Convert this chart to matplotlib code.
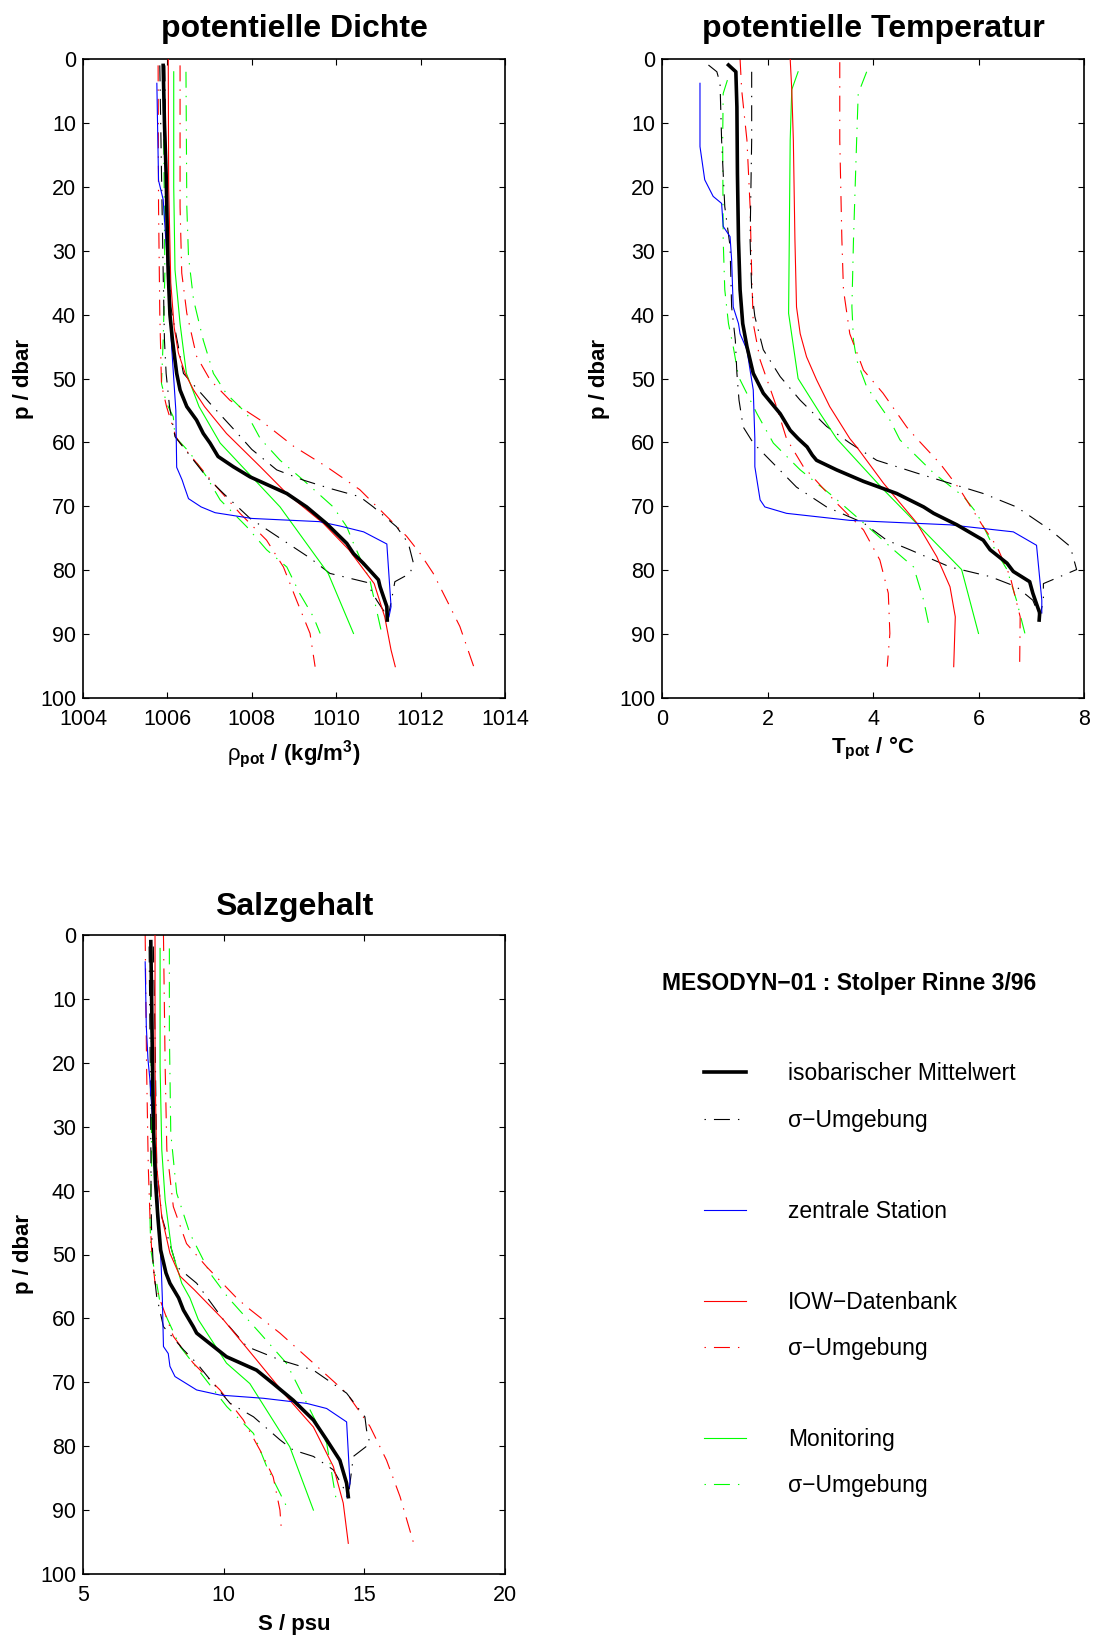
import matplotlib
matplotlib.use("Agg")
import matplotlib.pyplot as plt

plt.rcParams['font.family'] = ['Liberation Sans', 'DejaVu Sans']
plt.rcParams['mathtext.fontset'] = 'custom'
plt.rcParams['mathtext.rm'] = 'Liberation Sans'
plt.rcParams['mathtext.bf'] = 'Liberation Sans:bold'
plt.rcParams['mathtext.it'] = 'Liberation Sans:italic'
plt.rcParams['lines.scale_dashes'] = False

# ---------------- potentielle Dichte (kg/m3) ----------------
rho_mean_p = [1, 10, 18, 28, 33.5, 40, 44, 49.2, 51.8, 54.4, 56.5, 58.6, 60.1, 62.2, 63.8, 65.4, 68, 70.1, 72.7, 75.8, 77.4, 78.9, 81.5, 82.6, 85.7, 87.8]
rho_mean = [1005.90, 1005.93, 1005.97, 1006.00, 1006.02, 1006.06, 1006.12, 1006.22, 1006.30, 1006.46, 1006.69, 1006.85, 1007.01, 1007.20, 1007.56, 1007.96, 1008.83, 1009.30, 1009.77, 1010.25, 1010.41, 1010.64, 1011.00, 1011.04, 1011.20, 1011.21]
rho_mean_lo_p = [1, 17.9, 33.5, 44, 49.2, 54.4, 59.1, 60.1, 65.4, 68, 71.9, 75, 78.1, 80.5, 81.9, 84.7, 86.7, 87.6]
rho_mean_lo = [1005.82, 1005.86, 1005.90, 1005.93, 1005.97, 1006.05, 1006.18, 1006.30, 1006.93, 1007.33, 1007.96, 1008.67, 1009.38, 1009.85, 1010.72, 1010.96, 1011.16, 1011.23]
rho_mean_hi_p = [1, 23.1, 38.8, 49.2, 53.9, 58, 61.1, 64.3, 65.9, 67.2, 68.5, 70.1, 73.2, 75.8, 78.9, 80.5, 81.8, 84.7, 87.3]
rho_mean_hi = [1005.94, 1005.97, 1006.08, 1006.38, 1007.01, 1007.58, 1008.00, 1008.59, 1009.22, 1009.85, 1010.56, 1010.88, 1011.43, 1011.71, 1011.83, 1011.75, 1011.39, 1011.31, 1011.23]
rho_stat_p = [3.8, 19, 22, 30, 45, 55, 63.9, 65.9, 66.9, 68.8, 70.1, 71.0, 71.9, 72.4, 73.1, 74.0, 75.9, 85.7, 87.3]
rho_stat = [1005.75, 1005.79, 1005.90, 1005.98, 1006.10, 1006.20, 1006.22, 1006.35, 1006.40, 1006.50, 1006.80, 1007.13, 1008.00, 1009.60, 1010.10, 1010.65, 1011.20, 1011.30, 1011.25]
rho_iow_p = [0, 20, 35, 42, 46, 49.2, 51.8, 54.4, 58.6, 63.8, 68, 72.7, 76.8, 82.1, 87.3, 92.5, 95.1]
rho_iow = [1006.02, 1006.03, 1006.08, 1006.16, 1006.26, 1006.42, 1006.62, 1006.88, 1007.40, 1008.20, 1008.83, 1009.70, 1010.30, 1010.90, 1011.15, 1011.30, 1011.40]
rho_iow_lo_p = [1, 23, 40, 51, 54.4, 59.1, 60.1, 67, 71.1, 75.3, 79.5, 84.7, 89.9, 95.1]
rho_iow_lo = [1005.78, 1005.79, 1005.82, 1005.86, 1005.98, 1006.20, 1006.30, 1007.17, 1007.72, 1008.35, 1008.75, 1009.06, 1009.38, 1009.50]
rho_iow_hi_p = [1, 23.1, 33.5, 39.8, 46.5, 50.2, 53.4, 56.5, 60.6, 63.8, 67.4, 71.6, 74.7, 77.4, 80.5, 84.7, 88.8, 95.1]
rho_iow_hi = [1006.30, 1006.30, 1006.34, 1006.46, 1006.69, 1007.01, 1007.48, 1008.20, 1008.99, 1009.77, 1010.56, 1011.20, 1011.67, 1011.99, 1012.30, 1012.62, 1012.93, 1013.26]
rho_mon_p = [2, 20, 33, 41.4, 49.2, 54.4, 60.1, 70.1, 80.5, 89.9]
rho_mon = [1006.15, 1006.15, 1006.18, 1006.30, 1006.45, 1006.75, 1007.25, 1008.67, 1009.81, 1010.41]
rho_mon_lo_p = [2, 33.5, 44, 50.8, 53.9, 56, 59.1, 61.6, 65.4, 69.0, 73.2, 76.8, 79.5, 83.7, 87.3, 89.9]
rho_mon_lo = [1005.90, 1005.94, 1005.90, 1005.86, 1005.98, 1006.14, 1006.18, 1006.53, 1006.93, 1007.25, 1007.88, 1008.35, 1008.83, 1009.14, 1009.46, 1009.62]
rho_mon_hi_p = [2, 23.1, 30.9, 37.7, 44, 49.2, 52.4, 55.5, 59.4, 62.8, 65.9, 70.1, 73.2, 75.8, 81.6, 89.9]
rho_mon_hi = [1006.44, 1006.46, 1006.50, 1006.62, 1006.85, 1007.09, 1007.40, 1007.88, 1008.20, 1008.67, 1009.22, 1009.93, 1010.25, 1010.41, 1010.80, 1011.08]

# ---------------- potentielle Temperatur (degC) ----------------
tp_mean_p = [0.94, 2, 7.5, 17.9, 28.3, 36.1, 41.4, 45, 49.2, 52.3, 55.5, 58.1, 59.4, 60.7, 62.0, 62.8, 64.3, 66.1, 68.0, 70.1, 71.1, 72.9, 75.3, 76.8, 78.9, 80.2, 81.8, 83.6, 86.7, 87.8]
tp_mean = [1.26, 1.40, 1.42, 1.43, 1.45, 1.48, 1.53, 1.61, 1.73, 1.92, 2.24, 2.43, 2.58, 2.75, 2.85, 2.93, 3.31, 3.82, 4.45, 4.96, 5.15, 5.59, 6.09, 6.22, 6.54, 6.66, 6.97, 7.03, 7.16, 7.15]
tp_mean_lo_p = [0.94, 2, 3.8, 12.7, 23.1, 29.3, 38.8, 44, 49.2, 53.4, 57.6, 60.1, 63.8, 67, 70.1, 72.6, 75.3, 76.8, 79.5, 81, 82.6, 84.7, 87.3]
tp_mean_lo = [0.88, 1.04, 1.10, 1.13, 1.19, 1.29, 1.32, 1.39, 1.42, 1.46, 1.54, 1.73, 2.17, 2.55, 3.12, 3.82, 4.26, 4.70, 5.46, 6.22, 6.72, 7.03, 7.16]
tp_mean_hi_p = [2, 12.7, 28.3, 36.1, 40.3, 45.5, 49.7, 53.4, 57.5, 60.1, 62.8, 64.8, 66.4, 68, 70.1, 73.7, 76.3, 79.9, 82.1, 84.7, 87.3]
tp_mean_hi = [1.70, 1.70, 1.67, 1.70, 1.76, 1.92, 2.24, 2.62, 3.12, 3.56, 4.07, 4.83, 5.46, 6.09, 6.72, 7.36, 7.74, 7.86, 7.23, 7.23, 7.16]
tp_stat_p = [3.8, 13.7, 18.9, 21.5, 22.6, 26.2, 27.8, 31.4, 38.8, 41.4, 43, 45.5, 48.7, 51.8, 59.4, 63.8, 65.9, 69, 70.1, 71.1, 72.2, 72.9, 74.0, 76.1, 84.7, 86.7]
tp_stat = [0.72, 0.72, 0.81, 0.97, 1.13, 1.16, 1.29, 1.32, 1.35, 1.45, 1.48, 1.61, 1.67, 1.73, 1.76, 1.76, 1.80, 1.86, 1.95, 2.36, 3.56, 5.46, 6.66, 7.10, 7.20, 7.20]
tp_iow_p = [0, 4.8, 12.7, 28.3, 38.8, 43, 46.6, 50.2, 54.4, 59.4, 60.7, 66.4, 72.6, 77.9, 82.6, 87.3, 95.1]
tp_iow = [2.43, 2.46, 2.49, 2.52, 2.55, 2.62, 2.74, 2.93, 3.18, 3.56, 3.69, 4.20, 4.83, 5.21, 5.46, 5.56, 5.53]
tp_iow_lo_p = [0, 4.8, 12.7, 23.1, 33.5, 41.4, 47.1, 54.4, 59.4, 63.8, 69.5, 73.7, 78.4, 83.6, 89.9, 95.1]
tp_iow_lo = [1.48, 1.51, 1.61, 1.67, 1.70, 1.73, 1.86, 2.17, 2.36, 2.68, 3.31, 3.82, 4.13, 4.29, 4.32, 4.27]
tp_iow_hi_p = [0.5, 12.7, 28.3, 36.1, 43, 48.7, 52.3, 57.6, 59.4, 63.3, 67.4, 73.2, 76.3, 81, 87.3, 95.1]
tp_iow_hi = [3.37, 3.37, 3.41, 3.44, 3.56, 3.82, 4.19, 4.64, 4.83, 5.27, 5.65, 6.09, 6.35, 6.60, 6.79, 6.78]
tp_mon_p = [2, 4.8, 12.7, 39.8, 50, 55.5, 59.4, 67.4, 79.9, 89.9]
tp_mon = [2.58, 2.46, 2.43, 2.40, 2.58, 3.00, 3.31, 4.20, 5.68, 6.00]
tp_mon_lo_p = [3.3, 5.4, 12.7, 28.3, 36.1, 41.4, 45, 49.7, 55.5, 60.1, 64.3, 68.5, 72.6, 76.8, 79.5, 84.7, 89.4]
tp_mon_lo = [1.24, 1.16, 1.15, 1.16, 1.19, 1.26, 1.35, 1.45, 1.80, 2.11, 2.62, 3.25, 3.82, 4.39, 4.77, 4.96, 5.08]
tp_mon_hi_p = [2, 5.4, 12.7, 28.3, 38.8, 44, 47.1, 51.3, 56.5, 59.6, 64.8, 68.5, 71.1, 76.3, 79.9, 84.7, 89.9]
tp_mon_hi = [3.88, 3.72, 3.69, 3.63, 3.60, 3.63, 3.69, 3.88, 4.32, 4.51, 5.15, 5.72, 5.97, 6.28, 6.54, 6.72, 6.88]

# ---------------- Salzgehalt (psu) ----------------
s_mean_p = [1.04, 10.2, 20.6, 31.0, 38.8, 44.1, 49.3, 52.9, 54.5, 56.8, 58.7, 61.3, 62.3, 66, 68.1, 70.2, 72.8, 75.9, 79.0, 82.2, 85.8, 87.9]
s_mean = [7.41, 7.44, 7.47, 7.51, 7.58, 7.66, 7.76, 7.95, 8.09, 8.40, 8.57, 8.92, 9.04, 10.10, 11.17, 11.76, 12.47, 13.19, 13.66, 14.13, 14.37, 14.43]
s_mean_lo_p = [1.8, 15.3, 31, 41.5, 46.7, 51.9, 56.6, 61.3, 64.9, 67, 70.2, 73.3, 75.4, 79, 80.6, 81.6, 83.7, 87.4]
s_mean_lo = [7.35, 7.38, 7.41, 7.42, 7.44, 7.50, 7.62, 7.86, 8.57, 9.04, 9.63, 10.23, 11.06, 12.0, 12.47, 13.19, 13.90, 14.37]
s_mean_hi_p = [1.8, 15.3, 36.2, 44.1, 51.9, 54.5, 60.2, 64.4, 66.5, 68.1, 71.7, 75.4, 77.5, 79.6, 81.6, 85.8, 87.9]
s_mean_hi = [7.50, 7.56, 7.62, 7.80, 8.33, 9.04, 9.99, 10.82, 12.0, 13.19, 14.37, 15.02, 15.08, 15.20, 14.61, 14.49, 14.43]
s_stat_p = [4.2, 14.3, 19.5, 22.7, 31, 41.5, 51.9, 56.8, 64.4, 65.5, 67.5, 69.1, 71.2, 72.0, 72.5, 73.3, 74.1, 76.2, 85.8, 87.9]
s_stat = [7.21, 7.25, 7.31, 7.38, 7.50, 7.66, 7.78, 7.82, 7.86, 8.03, 8.09, 8.27, 9.04, 9.87, 11.41, 12.95, 13.66, 14.37, 14.49, 14.37]
s_iow_p = [0, 20.6, 36.2, 44.1, 49.8, 53.4, 55.5, 60.2, 66.5, 72.2, 77, 83.2, 88.9, 95.2]
s_iow = [7.56, 7.56, 7.62, 7.80, 8.09, 8.45, 8.95, 9.99, 11.17, 12.23, 13.19, 13.90, 14.25, 14.43]
s_iow_lo_p = [0, 20.6, 36.2, 44.1, 49.3, 54.5, 57.1, 62.8, 67, 71.2, 75.9, 80.6, 84.8, 90, 93.6]
s_iow_lo = [7.21, 7.26, 7.32, 7.38, 7.44, 7.56, 7.74, 8.21, 8.92, 9.87, 10.70, 11.29, 11.76, 12.0, 12.06]
s_iow_hi_p = [0, 20.6, 33.6, 42.5, 48.3, 51.9, 56.8, 58.2, 62.3, 67, 71.7, 76.9, 82.2, 87.9, 95]
s_iow_hi = [7.86, 7.92, 7.98, 8.21, 8.68, 9.39, 10.46, 10.82, 12.0, 13.19, 14.37, 15.20, 15.79, 16.27, 16.74]
s_mon_p = [2.1, 20.6, 33.6, 41.5, 49.3, 54.5, 56.8, 60.2, 67, 70.2, 80.1, 90]
s_mon = [7.74, 7.74, 7.80, 7.92, 8.15, 8.51, 8.80, 9.10, 10.10, 10.93, 12.35, 13.19]
s_mon_lo_p = [2.3, 20.6, 36.2, 44.1, 49.3, 54.5, 57.6, 64.4, 69.1, 73.8, 78, 83.2, 88.4, 90]
s_mon_lo = [7.44, 7.42, 7.44, 7.38, 7.41, 7.62, 7.74, 8.45, 9.28, 10.11, 11.06, 11.53, 12.12, 12.30]
s_mon_hi_p = [2.1, 15.3, 31, 40.4, 46.7, 52.9, 56.7, 62.3, 67, 72.2, 79.5, 88.9]
s_mon_hi = [8.07, 8.07, 8.12, 8.33, 8.80, 9.51, 10.15, 11.29, 12.23, 12.83, 13.66, 14.02]

# ---------------- texts ----------------
titles = ['potentielle Dichte', 'potentielle Temperatur', 'Salzgehalt']
xlabels = [r'$\mathrm{\rho}_{\mathbf{pot}}$ / (kg/$\mathbf{m}^{\mathbf{3}}$)',
           r'$\mathbf{T}_{\mathbf{pot}}$ / °C', 'S / psu']
ylabel = 'p / dbar'
xticks_rho = [1004, 1006, 1008, 1010, 1012, 1014]
xticks_t = [0, 2, 4, 6, 8]
xticks_s = [5, 10, 15, 20]
yticks = list(range(0, 101, 10))
legend_title = 'MESODYN\u221201 : Stolper Rinne 3/96'
legend_labels = ['isobarischer Mittelwert', '\u03c3\u2212Umgebung', 'zentrale Station',
                 'IOW\u2212Datenbank', '\u03c3\u2212Umgebung', 'Monitoring', '\u03c3\u2212Umgebung']

W, H = 1093, 1637
fig = plt.figure(figsize=(W / 100, H / 100), dpi=100)
fig.patch.set_facecolor('white')

AX_W, AX_H = 422, 639
DD = (0, (11.5, 5.8, 1.0, 5.8))
THIN = 0.8
THICK = 2.6


def make_ax(left_px, top_px):
    return fig.add_axes([left_px / W, 1 - (top_px + AX_H) / H, AX_W / W, AX_H / H])


def style(ax, xlim, xticks, title, title_y, xlabel, xlabel_y, ylabel_x):
    ax.set_xlim(*xlim)
    ax.set_ylim(100, 0)
    ax.set_xticks(xticks)
    ax.set_yticks(yticks)
    ax.tick_params(direction='in', top=True, right=True, length=4.3, width=0.8,
                   labelsize=15.5, colors='black')
    ax.tick_params(axis='x', pad=8)
    ax.tick_params(axis='y', pad=5)
    for sp in ax.spines.values():
        sp.set_linewidth(1.2)
    ax.text(0.5, title_y, title, transform=ax.transAxes, ha='center', va='baseline',
            fontsize=23, fontweight='bold')
    ax.text(0.5, xlabel_y, xlabel, transform=ax.transAxes, ha='center', va='baseline',
            fontsize=16, fontweight='bold')
    ax.text(ylabel_x, 0.5, ylabel, transform=ax.transAxes, ha='center', va='baseline',
            rotation=90, rotation_mode='anchor', fontsize=16, fontweight='bold')


def draw_panel(ax, groups):
    # envelopes first, then single profiles, then mean on top
    for (p, v, c, ls, lw, z) in groups:
        ax.plot(v, p, color=c, linestyle=ls, linewidth=lw, zorder=z)


ax1 = make_ax(83, 59)
draw_panel(ax1, [
    (rho_mon_lo_p, rho_mon_lo, '#00ff00', DD, THIN, 2),
    (rho_mon_hi_p, rho_mon_hi, '#00ff00', DD, THIN, 2),
    (rho_iow_lo_p, rho_iow_lo, '#ff0000', DD, THIN, 2),
    (rho_iow_hi_p, rho_iow_hi, '#ff0000', DD, THIN, 2),
    (rho_mean_lo_p, rho_mean_lo, 'black', DD, THIN, 2),
    (rho_mean_hi_p, rho_mean_hi, 'black', DD, THIN, 2),
    (rho_mon_p, rho_mon, '#00ff00', '-', THIN, 3),
    (rho_iow_p, rho_iow, '#ff0000', '-', THIN, 3),
    (rho_stat_p, rho_stat, '#0000ff', '-', THIN, 3),
    (rho_mean_p, rho_mean, 'black', '-', THICK, 4),
])
style(ax1, (1004, 1014), xticks_rho, titles[0], 1 + (59 - 36.7) / AX_H,
      xlabels[0], -(760 - 698) / AX_H, (29 - 83) / AX_W)

ax2 = make_ax(662, 59)
draw_panel(ax2, [
    (tp_mon_lo_p, tp_mon_lo, '#00ff00', DD, THIN, 2),
    (tp_mon_hi_p, tp_mon_hi, '#00ff00', DD, THIN, 2),
    (tp_iow_lo_p, tp_iow_lo, '#ff0000', DD, THIN, 2),
    (tp_iow_hi_p, tp_iow_hi, '#ff0000', DD, THIN, 2),
    (tp_mean_lo_p, tp_mean_lo, 'black', DD, THIN, 2),
    (tp_mean_hi_p, tp_mean_hi, 'black', DD, THIN, 2),
    (tp_mon_p, tp_mon, '#00ff00', '-', THIN, 3),
    (tp_iow_p, tp_iow, '#ff0000', '-', THIN, 3),
    (tp_stat_p, tp_stat, '#0000ff', '-', THIN, 3),
    (tp_mean_p, tp_mean, 'black', '-', THICK, 4),
])
style(ax2, (0, 8), xticks_t, titles[1], 1 + (59 - 36.7) / AX_H,
      xlabels[1], -(753 - 698) / AX_H, (605 - 662) / AX_W)

ax3 = make_ax(83, 935)
draw_panel(ax3, [
    (s_mon_lo_p, s_mon_lo, '#00ff00', DD, THIN, 2),
    (s_mon_hi_p, s_mon_hi, '#00ff00', DD, THIN, 2),
    (s_iow_lo_p, s_iow_lo, '#ff0000', DD, THIN, 2),
    (s_iow_hi_p, s_iow_hi, '#ff0000', DD, THIN, 2),
    (s_mean_lo_p, s_mean_lo, 'black', DD, THIN, 2),
    (s_mean_hi_p, s_mean_hi, 'black', DD, THIN, 2),
    (s_mon_p, s_mon, '#00ff00', '-', THIN, 3),
    (s_iow_p, s_iow, '#ff0000', '-', THIN, 3),
    (s_stat_p, s_stat, '#0000ff', '-', THIN, 3),
    (s_mean_p, s_mean, 'black', '-', THICK, 4),
])
style(ax3, (5, 20), xticks_s, titles[2], 1 + (935 - 915) / AX_H,
      xlabels[2], -(1630 - 1574) / AX_H, (29 - 83) / AX_W)

# ---------------- legend panel (pixel layout) ----------------
leg = fig.add_axes([0, 0, 1, 1])
leg.set_xlim(0, W)
leg.set_ylim(H, 0)
leg.set_axis_off()
leg.text(662, 990, legend_title, fontsize=16.5, fontweight='bold', ha='left', va='baseline')
LDD = (17.3, (11.5, 5.8, 1.0, 5.8))
legend_styles = [('black', '-', THICK), ('black', LDD, THIN), ('#0000ff', '-', THIN),
                 ('#ff0000', '-', THIN), ('#ff0000', LDD, THIN),
                 ('#00ff00', '-', THIN), ('#00ff00', LDD, THIN)]
legend_rows = [1072, 1118.5, 1209.5, 1300.5, 1346.5, 1437.5, 1483.5]
for yrow, (c, ls, lw), lab in zip(legend_rows, legend_styles, legend_labels):
    leg.plot([704, 746], [yrow, yrow], color=c, linestyle=ls, linewidth=lw)
    leg.text(788, yrow + 8.5, lab, fontsize=16.5, ha='left', va='baseline')

fig.savefig('out.png', dpi=100)
